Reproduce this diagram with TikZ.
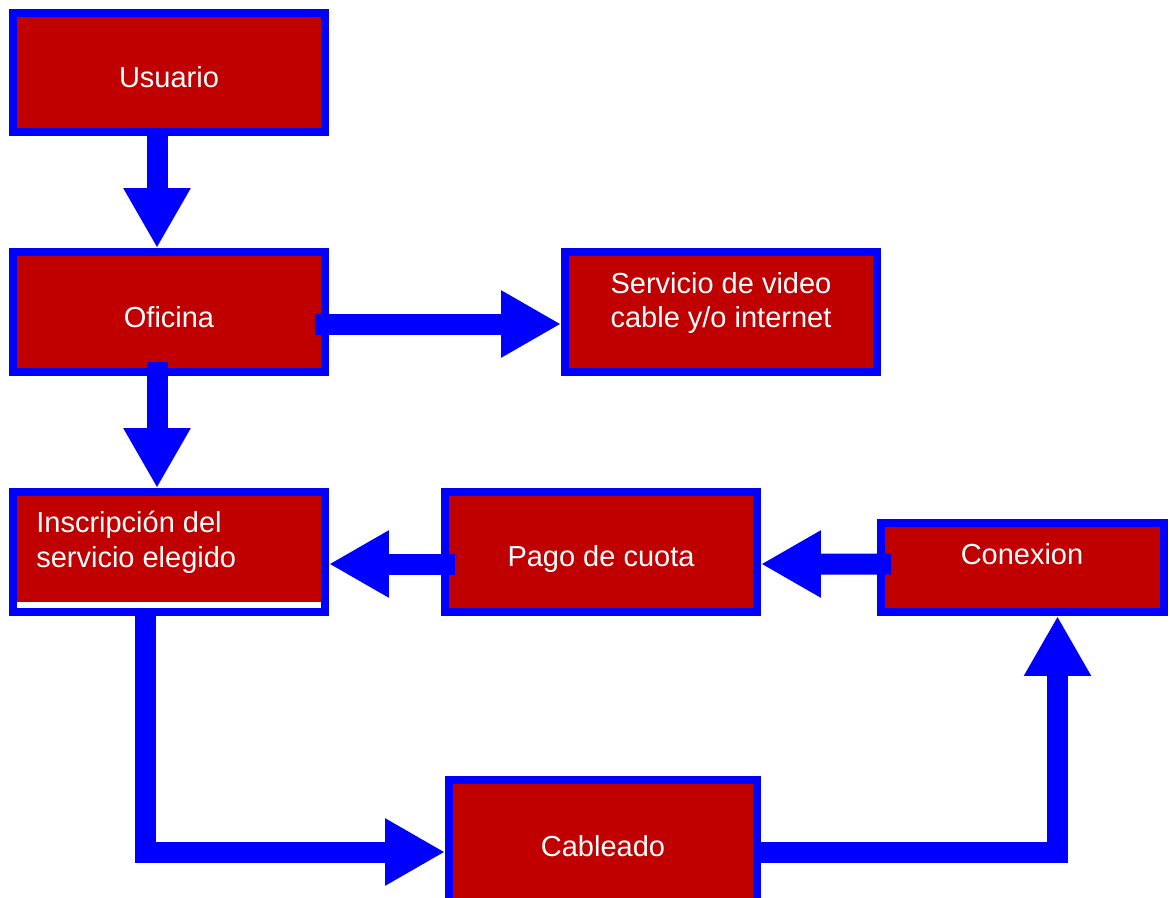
\documentclass[tikz,border=0pt]{standalone}
\usepackage{fontspec}
\setmainfont{Liberation Sans}
\usetikzlibrary{arrows.meta}
\definecolor{rojo}{RGB}{192,0,0}
\definecolor{azul}{RGB}{0,0,255}

\begin{document}
\begin{tikzpicture}[x=0.02cm, y=-0.02cm,
  caja/.style={draw=azul, fill=rojo, line width=0.16cm, minimum width=6.24cm, minimum height=2.4cm, inner sep=0pt},
  texto/.style={text=white, font=\fontsize{16.5}{19.8}\selectfont, inner sep=0pt},
  flecha/.style={draw=azul, line width=0.42cm, -{Triangle[length=1.2cm,width=1.26cm]}}]
\useasboundingbox (0,0) rectangle (1170,897);
\clip (0,0) rectangle (1170,897);

\node[caja, minimum height=2.38cm] (usuario) at (169,72.5) {};
\node[caja] (oficina) at (169,312) {};
\node[caja] (servicio) at (721,312) {};
\node[caja, fill=white] (inscripcion) at (169,552) {};
\fill[rojo] ([shift={(0.16cm,-0.16cm)}]inscripcion.north west) rectangle ([shift={(-0.16cm,0.28cm)}]inscripcion.south east);
\node[caja] (pago) at (601,552) {};
\node[caja, minimum width=5.66cm, minimum height=1.78cm] (conexion) at (1022.5,567.5) {};
\node[caja, minimum width=6.16cm, minimum height=2.72cm] (cableado) at (603,848) {};

\node[texto] (t-usuario) at (169,77) {Usuario};
\node[texto] (t-oficina) at (169,317) {Oficina};
\node[texto, align=center] (t-servicio) at (721,303) {Servicio de video\\cable y/o internet};
\node[texto, align=left, anchor=west] (t-inscripcion) at (36,542.5) {Inscripción del\\servicio elegido};
\node[texto] (t-pago) at (601,559) {Pago de cuota};
\node[texto] (t-conexion) at (1022,554) {Conexion};
\node[texto] (t-cableado) at (603,846) {Cableado};

\draw[flecha] ([xshift=-0.24cm]usuario.south) -- ([xshift=-0.24cm]oficina.north);
\draw[flecha] ([xshift=-0.24cm,yshift=0.28cm]oficina.south) -- ([xshift=-0.24cm]inscripcion.north);
\draw[flecha] ([xshift=-0.28cm,yshift=-0.24cm]oficina.east) -- ([yshift=-0.24cm]servicio.west);
\draw[flecha] ([xshift=0.28cm,yshift=-0.24cm]pago.west) -- ([yshift=-0.24cm]inscripcion.east);
\draw[flecha] ([xshift=0.28cm,yshift=0.07cm]conexion.west) -- ([yshift=-0.24cm]pago.east);
\draw[flecha] ([xshift=-0.47cm]inscripcion.south) |- ([yshift=-0.08cm]cableado.west);
\draw[flecha] ([yshift=-0.08cm]cableado.east) -| ([xshift=0.7cm]conexion.south);
\end{tikzpicture}
\end{document}
